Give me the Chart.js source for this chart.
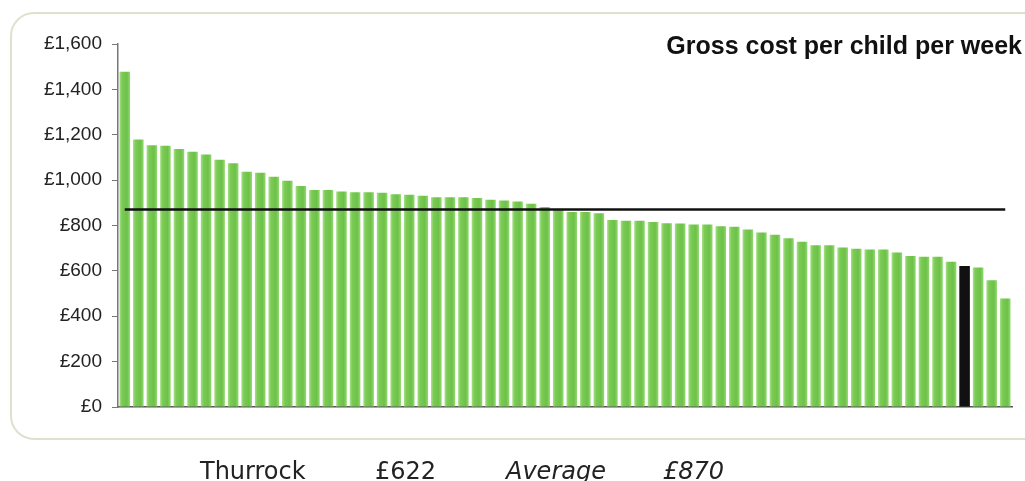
<!DOCTYPE html>
<html>
<head>
<meta charset="utf-8">
<script src="https://cdn.jsdelivr.net/npm/chart.js@4.4.1/dist/chart.umd.min.js"></script>
<style>
  html, body { margin: 0; padding: 0; background: #fff; overflow: hidden; }
  #wrap { position: relative; width: 1025px; height: 481px; }
  #frame {
    position: absolute; left: 10px; top: 12px; width: 1060px; height: 428px;
    border: 2px solid #dde2cc; border-radius: 24px; box-sizing: border-box;
  }
  #chart-box { position: absolute; left: 0; top: 0; width: 1025px; height: 481px; }
  #title {
    position: absolute; right: 3px; top: 31px;
    font: bold 25px "Liberation Sans", Arial, sans-serif; color: #111;
  }
  .foot {
    position: absolute; top: 459px; line-height: 24px;
    font-size: 24px; font-family: "DejaVu Sans", Verdana, sans-serif; color: #222;
  }
  .foot.it { font-style: italic; }
</style>
</head>
<body>
<div id="wrap">
  <div id="frame"></div>
  <div id="chart-box"><canvas id="cost-chart"></canvas></div>
  <div id="title">Gross cost per child per week</div>
  <div class="foot" style="left:200px">Thurrock</div>
  <div class="foot" style="left:375px">£622</div>
  <div class="foot it" style="left:506px">Average</div>
  <div class="foot it" style="left:663px">£870</div>
</div>
<script>
/* ===== DATA ===== */
// gross weekly cost per child, councils sorted high to low
const costs = [
  1478, 1179, 1154, 1151, 1137, 1125, 1113, 1090, 1074, 1037, 1032,
  1015, 997, 974, 956, 956, 950, 947, 947, 944, 938, 935,
  931, 924, 924, 924, 921, 913, 910, 906, 896, 882, 870,
  860, 859, 854, 824, 821, 821, 815, 810, 809, 804, 804,
  797, 794, 782, 769, 759, 744, 728, 713, 713, 703, 697,
  694, 694, 681, 666, 662, 662, 640, 622, 615, 559, 478
];
const highlight = 'Thurrock';
const highlightIndex = 62;
const councils = costs.map((v, i) => i === highlightIndex ? highlight : '');
const average = 870;
const yTicks = [0, 200, 400, 600, 800, 1000, 1200, 1400, 1600];

const GREEN = '#78c952';
const DARK  = '#111111';

// light edge -> green -> light edge, like the shaded bars of the original
function barFill(c) {
  if (c.dataIndex === highlightIndex) return DARK;
  const el = c.chart.getDatasetMeta(0).data[c.dataIndex];
  if (!el || !isFinite(el.x) || !isFinite(el.width)) return GREEN;
  const g = c.chart.ctx.createLinearGradient(el.x - el.width / 2, 0, el.x + el.width / 2, 0);
  g.addColorStop(0,    '#a6e086');
  g.addColorStop(0.25, '#7acb54');
  g.addColorStop(0.7,  '#6dc148');
  g.addColorStop(1,    '#93d872');
  return g;
}

/* ===== AVERAGE LINE ===== */
const averageLine = {
  id: 'averageLine',
  afterDatasetsDraw(chart) {
    const x = chart.scales.x, y = chart.scales.y, ctx = chart.ctx;
    const py = y.getPixelForValue(average);
    ctx.save();
    ctx.strokeStyle = DARK;
    ctx.lineWidth = 2.5;
    ctx.beginPath();
    ctx.moveTo(x.getPixelForValue(0), py);
    ctx.lineTo(x.getPixelForValue(costs.length - 1), py);
    ctx.stroke();
    ctx.restore();
  }
};

const costChart = new Chart(document.getElementById('cost-chart'), {
  type: 'bar',
  data: {
    labels: councils,
    datasets: [{
      data: costs,
      backgroundColor: barFill,
      borderWidth: 0,
      barPercentage: 0.78,
      categoryPercentage: 1
    }]
  },
  options: {
    responsive: true,
    maintainAspectRatio: false,
    animation: false,
    layout: { padding: { top: 44, right: 13, bottom: 74, left: 0 } },
    plugins: { legend: { display: false }, tooltip: { enabled: false } },
    scales: {
      x: {
        ticks: { display: false },
        grid: { display: false },
        border: { display: true, color: '#555', width: 1.5 },
        afterFit(scale) { scale.height = 0; }
      },
      y: {
        min: 0, max: 1600,
        afterBuildTicks(scale) { scale.ticks = yTicks.map(v => ({ value: v })); },
        afterFit(scale) { scale.width = 118; },
        ticks: {
          color: '#222', padding: 10,
          font: { family: '"Liberation Sans", Arial, sans-serif', size: 19 },
          callback: v => '£' + v.toLocaleString('en-GB')
        },
        grid: { drawOnChartArea: false, drawTicks: true, tickLength: 6, color: '#777' },
        border: { display: true, color: '#777', width: 1.5 }
      }
    }
  },
  plugins: [averageLine]
});
// second pass so the gradients know where each bar sits
costChart.update();
</script>
</body>
</html>
